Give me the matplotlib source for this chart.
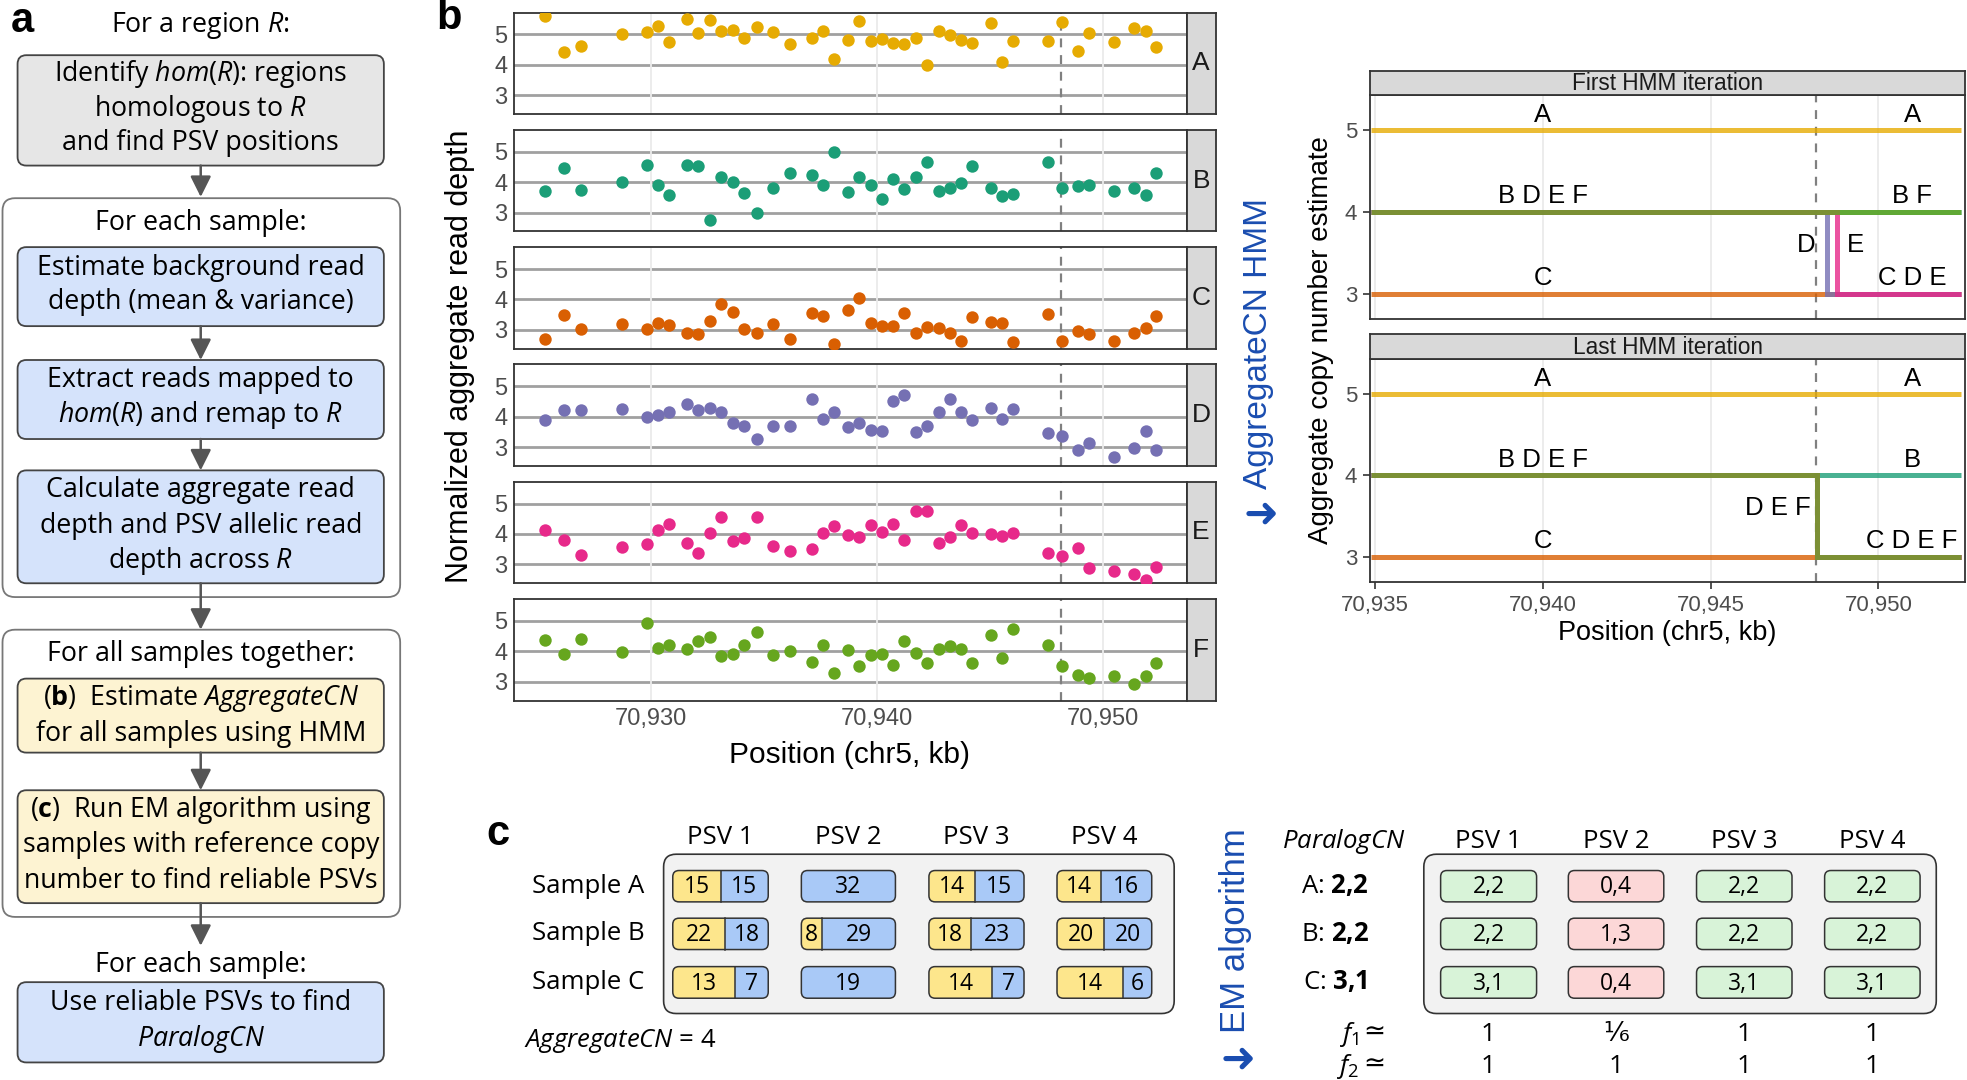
import matplotlib
matplotlib.use('Agg')
import matplotlib.pyplot as plt
from matplotlib.patches import FancyBboxPatch, Rectangle
from matplotlib.ticker import FuncFormatter

plt.rcParams['mathtext.fontset'] = 'custom'
plt.rcParams['mathtext.rm'] = 'Open Sans'
plt.rcParams['mathtext.it'] = 'Open Sans:italic'
plt.rcParams['mathtext.bf'] = 'Open Sans:bold'

# ---- panel b data: normalized aggregate read depth per sample ----
samples = ['A', 'B', 'C', 'D', 'E', 'F']
sample_colors = ['#E6AB02', '#1B9E77', '#D95F02', '#7570B3', '#E7298A', '#66A61E']
pos_kb = [70925.30, 70926.13, 70926.88, 70928.70, 70929.80, 70930.31, 70930.81, 70931.60,
          70932.09, 70932.61, 70933.10, 70933.62, 70934.11, 70934.67, 70935.42, 70936.13,
          70937.12, 70937.62, 70938.09, 70938.70, 70939.21, 70939.73, 70940.22, 70940.72,
          70941.21, 70941.73, 70942.22, 70942.74, 70943.24, 70943.73, 70944.22, 70945.03,
          70945.53, 70946.04, 70947.57, 70948.20, 70948.88, 70949.37, 70950.49, 70951.39,
          70951.89, 70952.36]
depth_A = [5.61, 4.42, 4.63, 5.00, 5.09, 5.29, 4.76, 5.52, 5.06, 5.47, 5.11, 5.14, 4.89, 5.26,
           5.08, 4.69, 4.89, 5.12, 4.19, 4.82, 5.44, 4.77, 4.86, 4.72, 4.69, 4.88, 4.00, 5.10,
           4.99, 4.81, 4.72, 5.39, 4.11, 4.80, 4.78, 5.42, 4.44, 5.04, 4.76, 5.21, 5.12, 4.58]
depth_B = [3.72, 4.47, 3.74, 3.99, 4.57, 3.89, 3.58, 4.55, 4.53, 2.77, 4.18, 3.99, 3.63, 2.98,
           3.80, 4.29, 4.23, 3.90, 5.00, 3.69, 4.18, 3.92, 3.45, 4.11, 3.77, 4.18, 4.65, 3.70,
           3.81, 3.97, 4.54, 3.81, 3.54, 3.61, 4.67, 3.81, 3.87, 3.90, 3.71, 3.82, 3.59, 4.29]
depth_C = [2.70, 3.48, 3.02, 3.18, 3.02, 3.23, 3.15, 2.89, 2.88, 3.30, 3.86, 3.58, 3.03, 2.90,
           3.20, 2.71, 3.56, 3.46, 2.52, 3.66, 4.05, 3.21, 3.13, 3.13, 3.57, 2.90, 3.10, 3.06,
           2.91, 2.63, 3.41, 3.26, 3.21, 2.59, 3.51, 2.62, 2.96, 2.85, 2.62, 2.89, 3.07, 3.47]
depth_D = [3.88, 4.21, 4.22, 4.26, 4.00, 4.04, 4.16, 4.41, 4.21, 4.29, 4.15, 3.78, 3.70, 3.27,
           3.70, 3.70, 4.59, 3.94, 4.16, 3.65, 3.80, 3.56, 3.52, 4.51, 4.72, 3.51, 3.70, 4.16,
           4.57, 4.16, 3.88, 4.30, 3.93, 4.25, 3.46, 3.36, 2.91, 3.12, 2.66, 2.98, 3.53, 2.92]
depth_E = [4.13, 3.81, 3.32, 3.58, 3.68, 4.13, 4.32, 3.70, 3.37, 4.04, 4.56, 3.78, 3.87, 4.55,
           3.61, 3.45, 3.52, 4.04, 4.26, 3.97, 3.90, 4.30, 4.07, 4.32, 3.81, 4.75, 4.77, 3.72,
           3.91, 4.29, 4.04, 4.01, 3.92, 4.04, 3.36, 3.28, 3.53, 2.87, 2.78, 2.70, 2.50, 2.91]
depth_F = [4.38, 3.90, 4.41, 3.96, 4.94, 4.10, 4.19, 4.06, 4.35, 4.46, 3.85, 3.91, 4.22, 4.63,
           3.87, 4.01, 3.66, 4.21, 3.27, 4.03, 3.52, 3.87, 3.90, 3.56, 4.34, 3.94, 3.62, 4.07,
           4.17, 4.08, 3.61, 4.55, 3.78, 4.72, 4.21, 3.52, 3.21, 3.12, 3.18, 2.92, 3.18, 3.62]
depths = [depth_A, depth_B, depth_C, depth_D, depth_E, depth_F]
boundary_kb = 70948.15

# ---- HMM copy number estimates ----
hmm_start, hmm_end = 70934.9, 70952.45
first_cn_left = [5, 4, 3, 4, 4, 4]
first_cn_right = [5, 4, 3, 3, 3, 4]
first_switch = [None, None, None, 70948.46, 70948.77, None]
last_cn_left = [5, 4, 3, 4, 4, 4]
last_cn_right = [5, 4, 3, 3, 3, 3]
last_switch = [None, None, None, 70948.18, 70948.18, 70948.18]

# ---- panel c data ----
psv_names = ['PSV 1', 'PSV 2', 'PSV 3', 'PSV 4']
sample_rows = ['Sample A', 'Sample B', 'Sample C']
reads_1 = [[15, 0, 14, 14], [22, 8, 18, 20], [13, 0, 14, 14]]
reads_2 = [[15, 32, 15, 16], [18, 29, 23, 20], [7, 19, 7, 6]]
aggregate_cn = 4
paralog_cn = ['2,2', '2,2', '3,1']
psv_cn = [['2,2', '0,4', '2,2', '2,2'], ['2,2', '1,3', '2,2', '2,2'], ['3,1', '0,4', '3,1', '3,1']]
psv_reliable = [True, False, True, True]
f1_vals = ['1', '⅙', '1', '1']
f2_vals = ['1', '1', '1', '1']

# layout is worked out on a 1568 x 861 grid and scaled to the figure
W0, H0 = 1568.0, 861.0
fig = plt.figure(figsize=(19.67, 10.80), dpi=100)


def rect(x0, y0, x1, y1):
    return [x0 / W0, 1 - y1 / H0, (x1 - x0) / W0, (y1 - y0) / H0]


ov = fig.add_axes([0, 0, 1, 1], zorder=0)
ov.set_xlim(0, W0)
ov.set_ylim(H0, 0)
ov.axis('off')

SANS = 'Open Sans'
GG = 'Liberation Sans'
BLUE = '#1a4db0'


def rbox(x0, y0, x1, y1, fc, ec='#444444', lw=1.3, r=7, z=1):
    p = FancyBboxPatch((x0, y0), x1 - x0, y1 - y0,
                       boxstyle=f'round,pad=0,rounding_size={r}',
                       fc=fc, ec=ec, lw=lw, zorder=z)
    ov.add_patch(p)
    return p


def arrow(y0, y1, x=160):
    ov.annotate('', xy=(x, y1), xytext=(x, y0),
                arrowprops=dict(arrowstyle='-|>,head_length=0.7,head_width=0.35',
                                color='#555555', lw=1.8, shrinkA=0, shrinkB=0,
                                mutation_scale=18), zorder=5)


def lines(ys, texts, size=19.3):
    for y, t in zip(ys, texts):
        ov.text(160, y, t, ha='center', va='center', fontsize=size, family=SANS, zorder=6)


# ================= panel a: flowchart =================
ov.text(18, 17, 'a', fontsize=30, fontweight='bold', family=GG, ha='center', va='center')
lines([20], [r'For a region $\mathit{R}$:'])
rbox(14, 44, 306, 132, '#e6e6e6')
lines([59, 87, 114], [r'Identify $\mathit{hom}$$\mathit{(R)}$: regions', r'homologous to $\mathit{R}$',
                      'and find PSV positions'])
arrow(132, 157)
rbox(2, 158, 319, 476, 'white', ec='#777777', r=10, z=0.5)
lines([178], ['For each sample:'])
rbox(14, 197, 306, 260, '#d5e3fb')
lines([214, 241], ['Estimate background read', 'depth (mean & variance)'])
arrow(260, 287)
rbox(14, 287, 306, 350, '#d5e3fb')
lines([303, 331], ['Extract reads mapped to', r'$\mathit{hom}$$\mathit{(R)}$ and remap to $\mathit{R}$'])
arrow(350, 375)
rbox(14, 375, 306, 465, '#d5e3fb')
lines([391, 419, 447], ['Calculate aggregate read', 'depth and PSV allelic read',
                        r'depth across $\mathit{R}$'])
arrow(465, 502)
rbox(2, 502, 319, 731, 'white', ec='#777777', r=10, z=0.5)
lines([521], ['For all samples together:'])
rbox(14, 541, 306, 600, '#fdf3d2')
lines([557, 585], [r'($\mathbf{b}$)  Estimate $\mathit{AggregateCN}$', 'for all samples using HMM'])
arrow(600, 630)
rbox(14, 630, 306, 720, '#fdf3d2')
lines([646, 674, 702], [r'($\mathbf{c}$)  Run EM algorithm using', 'samples with reference copy',
                        'number to find reliable PSVs'])
arrow(720, 754)
lines([769], ['For each sample:'])
rbox(14, 783, 306, 847, '#d5e3fb')
lines([800, 828], ['Use reliable PSVs to find', r'$\mathit{ParalogCN}$'])

# ================= panel b: read depth facets =================
ov.text(358, 14, 'b', fontsize=30, fontweight='bold', family=GG, ha='center', va='center')
xlo, xhi = min(pos_kb), max(pos_kb)
xpad = 0.05 * (xhi - xlo)
kb_fmt = FuncFormatter(lambda v, p: f'{v:,.0f}')
tops = [10, 103.5, 197, 290.5, 384, 477.5]
for i, (s, col, d) in enumerate(zip(samples, sample_colors, depths)):
    top = tops[i]
    ax = fig.add_axes(rect(410, top, 946, top + 81), zorder=2)
    for yv in [3, 4, 5]:
        ax.axhline(yv, color='#a0a0a0', lw=2.0, zorder=0)
    for xv in [70930, 70940, 70950]:
        ax.axvline(xv, color='#ebebeb', lw=1.3, zorder=0)
    ax.axvline(boundary_kb, color='#808080', lw=1.6, dashes=(4, 3.5), zorder=1)
    ax.scatter(pos_kb, d, s=80, color=col, linewidths=0, zorder=3)
    ax.set_xlim(xlo - xpad, xhi + xpad)
    ax.set_ylim(2.38, 5.72)
    ax.set_yticks([3, 4, 5])
    ax.set_xticks([70930, 70940, 70950])
    ax.xaxis.set_major_formatter(kb_fmt)
    ax.tick_params(length=0, labelsize=17, labelcolor='#4d4d4d', pad=5)
    if i < 5:
        ax.tick_params(labelbottom=False)
    for lab in ax.get_xticklabels() + ax.get_yticklabels():
        lab.set_family(GG)
    for sp in ax.spines.values():
        sp.set_color('#333333')
        sp.set_linewidth(1.3)
    st = fig.add_axes(rect(946, top, 969, top + 81), zorder=2)
    st.set_facecolor('#d9d9d9')
    st.set_xticks([])
    st.set_yticks([])
    for sp in st.spines.values():
        sp.set_color('#333333')
        sp.set_linewidth(1.3)
    st.text(0.5, 0.5, s, transform=st.transAxes, ha='center', va='center',
            fontsize=19, family=GG, color='#1a1a1a')

ov.text(367, 284, 'Normalized aggregate read depth', rotation=90, ha='center', va='center',
        fontsize=22, family=GG)
ov.text(677, 602, 'Position (chr5, kb)', ha='center', va='center', fontsize=21.5, family=GG)

# ================= HMM panels =================
ov.text(1003, 274, 'AggregateCN HMM', rotation=90, ha='center', va='center',
        fontsize=24, family=GG, color=BLUE)
ov.text(1005, 410, '➜', ha='center', va='center', fontsize=30, family='DejaVu Sans',
        color=BLUE, fontweight='bold')


def hmm_panel(top, bottom, strip_top, title, cn_left, cn_right, switch, show_x):
    ax = fig.add_axes(rect(1091.8, top, 1566.8, bottom), zorder=2)
    for xv in [70935, 70940, 70945, 70950]:
        ax.axvline(xv, color='#ebebeb', lw=1.3, zorder=0)
    ax.axvline(boundary_kb, color='#808080', lw=1.6, dashes=(4, 3.5), zorder=1)
    for cl, cr, sw, col in zip(cn_left, cn_right, switch, sample_colors):
        if sw is None:
            xs, ys = [hmm_start, hmm_end], [cl, cr]
        else:
            xs, ys = [hmm_start, sw, sw, hmm_end], [cl, cl, cr, cr]
        ax.plot(xs, ys, color=col, lw=3.6, alpha=0.8, solid_joinstyle='miter',
                solid_capstyle='butt', zorder=2)
    # labels listing the samples on each level
    for lvl in [3, 4, 5]:
        left = ' '.join(s for s, c in zip(samples, cn_left) if c == lvl)
        right = ' '.join(s for s, c in zip(samples, cn_right) if c == lvl)
        ax.text(70940, lvl + 0.19, left, ha='center', va='center', fontsize=18.5, family=GG)
        ax.text(70951.0, lvl + 0.19, right, ha='center', va='center', fontsize=18.5, family=GG)
    ax.set_xlim(70934.85, 70952.59)
    ax.set_ylim(2.685, 5.43)
    ax.set_yticks([3, 4, 5])
    ax.set_xticks([70935, 70940, 70945, 70950])
    ax.xaxis.set_major_formatter(kb_fmt)
    ax.tick_params(length=5, width=1.2, color='#333333', labelsize=16,
                   labelcolor='#4d4d4d', pad=4)
    if not show_x:
        ax.tick_params(axis='x', length=0, labelbottom=False)
    for lab in ax.get_xticklabels() + ax.get_yticklabels():
        lab.set_family(GG)
    for sp in ax.spines.values():
        sp.set_color('#333333')
        sp.set_linewidth(1.3)
    st = fig.add_axes(rect(1091.8, strip_top, 1566.8, top), zorder=2)
    st.set_facecolor('#d9d9d9')
    st.set_xticks([])
    st.set_yticks([])
    for sp in st.spines.values():
        sp.set_color('#333333')
        sp.set_linewidth(1.3)
    st.text(0.5, 0.47, title, transform=st.transAxes, ha='center', va='center',
            fontsize=16.3, family=GG, color='#1a1a1a')
    return ax


ax1 = hmm_panel(75.7, 254.6, 56.3, 'First HMM iteration', first_cn_left, first_cn_right,
                first_switch, False)
ax1.text(first_switch[3] - 0.35, 3.59, 'D', ha='right', va='center', fontsize=18.5, family=GG)
ax1.text(first_switch[4] + 0.3, 3.59, 'E', ha='left', va='center', fontsize=18.5, family=GG)
ax2 = hmm_panel(286.4, 464.2, 266.2, 'Last HMM iteration', last_cn_left, last_cn_right,
                last_switch, True)
ax2.text(last_switch[3] - 0.2, 3.6, 'D E F', ha='right', va='center', fontsize=18.5, family=GG)

ov.text(1053, 271, 'Aggregate copy number estimate', rotation=90, ha='center', va='center',
        fontsize=20, family=GG)
ov.text(1329, 505, 'Position (chr5, kb)', ha='center', va='center', fontsize=19.5, family=GG)

# ================= panel c =================
ov.text(397, 665, 'c', fontsize=30, fontweight='bold', family=GG, ha='center', va='center')
row_y = [(694, 719), (732, 757), (770.6, 795.8)]
left_cols = [(536.3, 612.4), (638.8, 713.8), (740.5, 816.3), (842.6, 918.1)]
right_cols = [(1148.4, 1224.9), (1250.2, 1326.3), (1352.4, 1428.5), (1454.5, 1530.6)]

rbox(529, 681, 936, 808, '#f2f2f2', ec='#333333', lw=1.2, r=10, z=0.5)
rbox(1135, 681, 1543.5, 808, '#f2f2f2', ec='#333333', lw=1.2, r=10, z=0.5)
for j, name in enumerate(psv_names):
    ov.text(sum(left_cols[j]) / 2, 668, name, ha='center', va='center', fontsize=18.5, family=SANS)
    ov.text(sum(right_cols[j]) / 2, 671, name, ha='center', va='center', fontsize=18.5, family=SANS)

for i, lab in enumerate(sample_rows):
    y0, y1 = row_y[i]
    yc = (y0 + y1) / 2
    ov.text(468.6, yc, lab, ha='center', va='center', fontsize=18.5, family=SANS)
    for j in range(len(psv_names)):
        x0, x1 = left_cols[j]
        r1, r2 = reads_1[i][j], reads_2[i][j]
        rbox(x0, y0, x1, y1, '#a9c9f7', ec='none', lw=0, r=5, z=2)
        if r1 > 0:
            xs = x0 + (x1 - x0) * r1 / (r1 + r2)
            yel = rbox(x0, y0, x1, y1, '#fde68c', ec='none', lw=0, r=5, z=2.5)
            clip = Rectangle((x0, y0), xs - x0, y1 - y0, transform=ov.transData)
            yel.set_clip_path(clip)
            ov.plot([xs, xs], [y0, y1], color='#333333', lw=1.1, zorder=3)
            ov.text((x0 + xs) / 2, yc + 1, str(r1), ha='center', va='center', fontsize=16.5,
                    family=SANS, zorder=4)
            ov.text((xs + x1) / 2, yc + 1, str(r2), ha='center', va='center', fontsize=16.5,
                    family=SANS, zorder=4)
        else:
            ov.text((x0 + x1) / 2, yc + 1, str(r2), ha='center', va='center', fontsize=16.5,
                    family=SANS, zorder=4)
        rbox(x0, y0, x1, y1, 'none', ec='#333333', lw=1.1, r=5, z=3.5)

        # ParalogCN table
        x0, x1 = right_cols[j]
        fc = '#d8f3d8' if psv_reliable[j] else '#fcd7d7'
        rbox(x0, y0, x1, y1, fc, ec='#333333', lw=1.1, r=5, z=2)
        ov.text((x0 + x1) / 2, yc + 1, psv_cn[i][j], ha='center', va='center', fontsize=16.5,
                family=SANS, zorder=4)
    letter = lab.split()[-1]
    cn_txt = paralog_cn[i].replace(',', '{,}')
    ov.text(1064, yc, letter + ': $\\mathbf{' + cn_txt + '}$', ha='center', va='center',
            fontsize=18.5, family=SANS)

ov.text(418, 830, r'$\mathit{AggregateCN}$ = ' + str(aggregate_cn), ha='left', va='center',
        fontsize=18.5, family=SANS)
ov.text(1071, 671, r'$\mathit{ParalogCN}$', ha='center', va='center', fontsize=18.5, family=SANS)

for yy, sub, vals in [(825, '1', f1_vals), (850, '2', f2_vals)]:
    ov.text(1083, yy, '$f_' + sub + '$', ha='right', va='center', fontsize=19, family=SANS)
    ov.text(1087, yy - 2, '≃', ha='left', va='center', fontsize=19,
            family=['DejaVu Sans'])
    for j, v in enumerate(vals):
        ov.text(sum(right_cols[j]) / 2, yy, v, ha='center', va='center', fontsize=19,
                family=[SANS, 'DejaVu Sans'])

ov.text(985, 742, 'EM algorithm', rotation=90, ha='center', va='center', fontsize=25,
        family=GG, color=BLUE)
ov.text(987, 845, '➜', ha='center', va='center', fontsize=30, family='DejaVu Sans',
        color=BLUE, fontweight='bold')

fig.savefig('out.png', dpi=100)
